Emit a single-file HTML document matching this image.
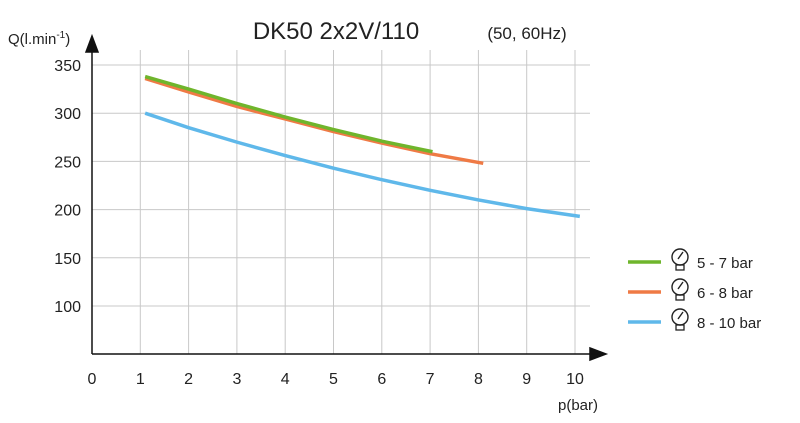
<!DOCTYPE html>
<html><head><meta charset="utf-8"><style>
body{margin:0;background:#fff;font-family:"Liberation Sans",sans-serif}
svg text{font-family:"Liberation Sans",sans-serif;fill:#222}
</style></head><body>
<svg width="800" height="418" viewBox="0 0 800 418">
<text x="336" y="39" font-size="24" text-anchor="middle">DK50 2x2V/110</text>
<text x="527" y="39" font-size="17" text-anchor="middle">(50, 60Hz)</text>
<text x="8" y="44" font-size="15">Q(l.min<tspan font-size="10" dy="-6">-1</tspan><tspan dy="6">)</tspan></text>
<text x="598" y="410" font-size="15" text-anchor="end">p(bar)</text>
<g id="grid"></g><g id="axes"></g><g id="series"></g>
<g id="legend"></g>
</svg>
<script>
const xTicks=[0,1,2,3,4,5,6,7,8,9,10];
const yTicks=[100,150,200,250,300,350];
const seriesNames=["5 - 7 bar","6 - 8 bar","8 - 10 bar"];
const seriesColors=["#6fb52c","#ef7a45","#5fb8ea"];
const greenX=[1.1,2,3,4,5,6,7.05];
const greenY=[338,325,310,296,283,271,260];
const orangeX=[1.1,2,3,4,5,6,7,8.1];
const orangeY=[336,322,307,294,281,269,258,248];
const blueX=[1.1,2,3,4,5,6,7,8,9,10.1];
const blueY=[300,285,270,256,243,231,220,210,201,193];
const NS="http://www.w3.org/2000/svg";
const sx=v=>92+v*48.3, sy=v=>65+(350-v)*0.964;
function mk(t,a,p){const e=document.createElementNS(NS,t);for(const k in a)e.setAttribute(k,a[k]);p.appendChild(e);return e;}
const grid=document.getElementById('grid'),axes=document.getElementById('axes'),ser=document.getElementById('series'),leg=document.getElementById('legend');
xTicks.forEach(v=>{
 if(v>0){const l=mk('line',{x1:sx(v),x2:sx(v),y1:50,y2:354,stroke:'#c8c8c8','stroke-width':1},grid);
 
 }
 const t=mk('text',{x:sx(v),y:384,'font-size':16,'text-anchor':'middle'},axes);t.textContent=v;
 
 
});
yTicks.forEach(v=>{
 const l=mk('line',{x1:92,x2:590,y1:sy(v),y2:sy(v),stroke:'#c8c8c8','stroke-width':1},grid);
 
 
 const t=mk('text',{x:81,y:sy(v)+6,'font-size':16,'text-anchor':'end'},axes);t.textContent=v;
 
 
});
let a=mk('path',{d:'M92,354V44M86,52L92,36L98,52Z',stroke:'#111','stroke-width':1.5,fill:'#111'},axes);


a=mk('path',{d:'M92,354H598M590,348L606,354L590,360Z',stroke:'#111','stroke-width':1.5,fill:'#111'},axes);


const data=[[greenX,greenY],[orangeX,orangeY],[blueX,blueY]];
[1,0,2].forEach(i=>{
 const [xs,ys]=data[i];
 const p=mk('polyline',{points:xs.map((x,j)=>sx(x)+','+sy(ys[j])).join(' '),fill:'none',stroke:seriesColors[i],'stroke-width':3.5,'stroke-linejoin':'round'},ser);
 
 
});
seriesNames.forEach((n,i)=>{
 const y=262+i*30;
 const g=mk('g',{},leg);
 
 
 mk('line',{x1:628,x2:661,y1:y,y2:y,stroke:seriesColors[i],'stroke-width':3.5},g);
 mk('circle',{cx:680,cy:y-5,r:8,fill:'none',stroke:'#222','stroke-width':1.4},g);
 mk('line',{x1:678,y1:y-3,x2:683,y2:y-10,stroke:'#222','stroke-width':1.4},g);
 mk('rect',{x:676,y:y+3,width:8,height:5,fill:'none',stroke:'#222','stroke-width':1.3},g);
 const t=mk('text',{x:697,y:y+6,'font-size':15},g);t.textContent=n;
});
</script>
</body></html>
